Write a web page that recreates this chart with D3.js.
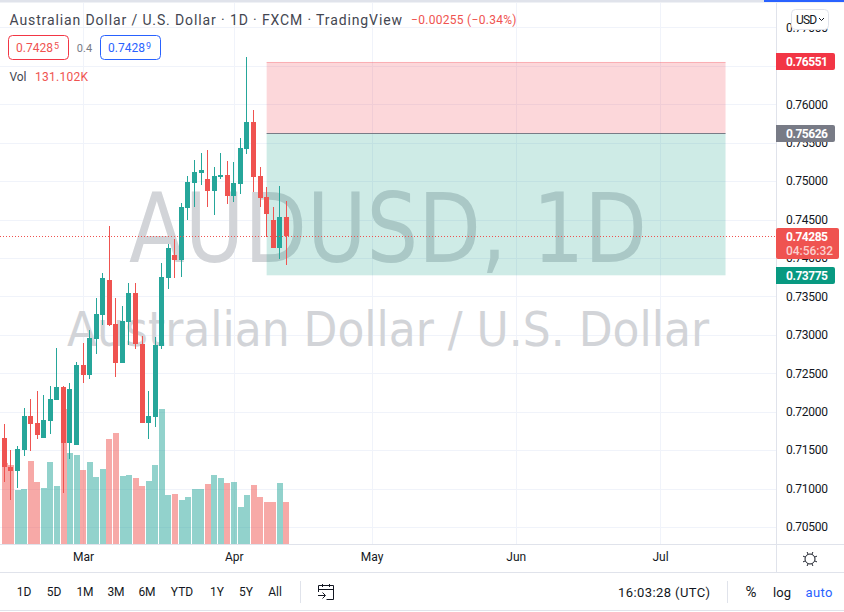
<!DOCTYPE html>
<html><head><meta charset="utf-8">
<style>
html,body{margin:0;padding:0;background:#fff}
svg{display:block}
text{font-family:Roboto,"Noto Sans",sans-serif;font-size:12px;fill:#131722}
.axis path.domain{display:none}
.axis line{display:none}
</style>
<script src="https://cdn.jsdelivr.net/npm/d3@7/dist/d3.min.js"></script>
</head><body>
<script>
const opens=[.71775,.71658,.71281,.71229,.71502,.71944,.71853,.71658,.71879,.72152,.72322,.71593,.71567,.72608,.72478,.72946,.73258,.73714,.73141,.72634,.73167,.73545,.72881,.71853,.71931,.72855,.73740,.74039,.73974,.74651,.74976,.75106,.75028,.74872,.75054,.75080,.74807,.74963,.75418,.75770,.75067,.74794,.74495,.74130,.74534];
const closes=[.71658,.71281,.71229,.71515,.71944,.71840,.71697,.71892,.72165,.72322,.71593,.72296,.72608,.72478,.72959,.73271,.73740,.73128,.72634,.73180,.73545,.72881,.71853,.71944,.72868,.73753,.74130,.73974,.74664,.74989,.75119,.75145,.74872,.75067,.75080,.74807,.74976,.75431,.75770,.75054,.74781,.74573,.74130,.74534,.74285];
const highs=[.71827,.71840,.71502,.71554,.72048,.72165,.72270,.72218,.72335,.72829,.72335,.72374,.72647,.72894,.73063,.73480,.73805,.74417,.73480,.73376,.73675,.73675,.72985,.72270,.72972,.73935,.74182,.74247,.74716,.75067,.75275,.75366,.75405,.75184,.75366,.75262,.75249,.75562,.76616,.75926,.75184,.74924,.74664,.74937,.74742];
const lows=[.71567,.71085,.70851,.71007,.71424,.71489,.71645,.71658,.71710,.72152,.70942,.71385,.71567,.72374,.72426,.72751,.73128,.73115,.72452,.72634,.72868,.72816,.71853,.71645,.71801,.72816,.73597,.73740,.73753,.74495,.74664,.74950,.74664,.74560,.75028,.74703,.74729,.74833,.75353,.74859,.74664,.74273,.74130,.73987,.73909];
const volumes=[0,253,246,168,172,259,193,175,256,181,421,284,278,231,256,209,234,328,346,212,215,206,181,197,246,421,153,156,137,147,172,172,187,215,206,190,193,115,153,184,147,131,131,190,131.102];
const priceTicks=[.705,.71,.715,.72,.725,.73,.735,.74,.745,.75,.755,.76,.765,.77];
const monthLabels=["Mar","Apr","May","Jun","Jul"];
const monthBars=[13,36,57,79,101];
const rangeButtons=["1D","5D","1M","3M","6M","YTD","1Y","5Y","All"];
const rangeCenters=[24,54,85,116,147,182,217,246,275];
const stopPrice=.76551, entryPrice=.75626, targetPrice=.73775, lastPrice=.74285;
const positionBars=[41,111];

const W=844,H=612,plotR=776,plotB=544;
const red="#ef5350",teal="#26a69a";
const svg=d3.select("body").append("svg").attr("width",W).attr("height",H);
const x=d3.scaleLinear().domain([1,44]).range([4.4,286.3]);
const y=d3.scaleLinear().domain([.705,.76]).range([527,104.3]);
const v=d3.scaleLinear().domain([0,421]).range([plotB,409]);
const px=n=>Math.round(n)+.5;

const grid=svg.append("g").attr("stroke","#f0f3fa").attr("stroke-width",1);
grid.selectAll("line.h").data(priceTicks).join("line").attr("x1",0).attr("x2",plotR)
  .attr("y1",d=>px(y(d))).attr("y2",d=>px(y(d)));
grid.selectAll("line.v").data(monthBars).join("line").attr("y1",3).attr("y2",plotB)
  .attr("x1",d=>px(x(d))).attr("x2",d=>px(x(d)));

// watermark
const wm=svg.append("g").attr("text-anchor","middle");
wm.append("text").attr("x",388).attr("y",262).text("AUDUSD, 1D")
  .style("font-family","'DejaVu Sans'").style("font-size","96px").style("fill","#d2d4d8")
  .attr("textLength",518).attr("lengthAdjust","spacingAndGlyphs");
wm.append("text").attr("x",388).attr("y",346).text("Australian Dollar / U.S. Dollar")
  .style("font-family","'DejaVu Sans'").style("font-size","48px").style("fill","#d2d4d8")
  .attr("textLength",642).attr("lengthAdjust","spacingAndGlyphs");

// position box
const bx0=x(positionBars[0]),bx1=x(positionBars[1]);
svg.append("rect").attr("x",bx0).attr("width",bx1-bx0).attr("y",y(stopPrice)).attr("height",y(entryPrice)-y(stopPrice))
  .attr("fill","rgba(242,54,69,.2)");
svg.append("rect").attr("x",bx0).attr("width",bx1-bx0).attr("y",y(entryPrice)).attr("height",y(targetPrice)-y(entryPrice))
  .attr("fill","rgba(8,153,129,.2)");
svg.append("line").attr("x1",bx0).attr("x2",bx1).attr("y1",px(y(stopPrice))).attr("y2",px(y(stopPrice))).attr("stroke","rgba(242,54,69,.25)");
svg.append("line").attr("x1",bx0).attr("x2",bx1).attr("y1",px(y(entryPrice))).attr("y2",px(y(entryPrice))).attr("stroke","#787b86");

const bars=d3.range(opens.length);
const up=i=>closes[i]>=opens[i];
// volume
svg.append("g").attr("shape-rendering","crispEdges").selectAll("rect").data(bars).join("rect")
  .attr("x",i=>Math.round(x(i)-2.9)).attr("width",6)
  .attr("y",i=>v(volumes[i])).attr("height",i=>plotB-v(volumes[i]))
  .attr("fill",i=>up(i)?"rgba(38,166,154,.5)":"rgba(239,83,80,.5)");
// candles
const cg=svg.append("g").attr("shape-rendering","crispEdges");
cg.selectAll("line").data(bars).join("line")
  .attr("x1",i=>px(x(i)-.5)).attr("x2",i=>px(x(i)-.5))
  .attr("y1",i=>y(highs[i])).attr("y2",i=>y(lows[i]))
  .attr("stroke",i=>up(i)?teal:red);
cg.selectAll("rect").data(bars).join("rect")
  .attr("x",i=>Math.round(x(i)-.5)-2).attr("width",5)
  .attr("y",i=>Math.min(y(opens[i]),y(closes[i])))
  .attr("height",i=>Math.max(1,Math.abs(y(opens[i])-y(closes[i]))))
  .attr("fill",i=>up(i)?teal:red);

// last price line
svg.append("line").attr("x1",0).attr("x2",plotR).attr("y1",px(y(lastPrice))).attr("y2",px(y(lastPrice)))
  .attr("stroke",red).attr("stroke-dasharray","1 2");

// panels
svg.append("rect").attr("x",0).attr("y",0).attr("width",W).attr("height",2.5).attr("fill","#e0e3eb");
svg.append("rect").attr("x",764).attr("y",0).attr("width",80).attr("height",2).attr("fill","#2962ff");
const border=[[plotR+.5,3,plotR+.5,572],[0,544.5,W,544.5],[0,572.5,W,572.5],[0,610.5,W,610.5]];
svg.append("g").selectAll("line").data(border).join("line")
  .attr("x1",d=>d[0]).attr("y1",d=>d[1]).attr("x2",d=>d[2]).attr("y2",d=>d[3]).attr("stroke","#e0e3eb");

// axes
const yAxis=svg.append("g").attr("class","axis").attr("transform","translate(786,0)")
  .call(d3.axisRight(y).tickValues(priceTicks).tickFormat(d3.format(".5f")).tickSize(0).tickPadding(0));
yAxis.selectAll("text").attr("textLength",42).attr("lengthAdjust","spacing");
const xAxis=svg.append("g").attr("class","axis").attr("transform","translate(0,552)")
  .call(d3.axisBottom(x).tickValues(monthBars).tickFormat((d,i)=>monthLabels[i]).tickSize(0).tickPadding(0));

// price tags
function tag(p,h,w,fill,label){
  const c=y(p);
  svg.append("rect").attr("x",776).attr("y",Math.round(c-8.5)).attr("width",w).attr("height",h).attr("rx",2).attr("fill",fill);
  svg.append("rect").attr("x",776).attr("y",Math.round(c-8.5)).attr("width",4).attr("height",h).attr("fill",fill);
  svg.append("text").attr("x",786).attr("y",Math.round(c-8.5)+8.5).attr("dy","0.35em").text(label)
    .style("fill","#fff").style("font-weight",700).attr("textLength",42).attr("lengthAdjust","spacing");
}
tag(stopPrice,17,59,"#f23645",d3.format(".5f")(stopPrice));
tag(entryPrice,17,59,"#787b86",d3.format(".5f")(entryPrice));
tag(targetPrice,17,59,"#089981",d3.format(".5f")(targetPrice));
svg.append("rect").attr("x",776).attr("y",228).attr("width",63).attr("height",31).attr("rx",2).attr("fill",red);
svg.append("text").attr("x",786).attr("y",236.5).attr("dy","0.35em").text(d3.format(".5f")(lastPrice))
  .style("fill","#fff").style("font-weight",700).attr("textLength",42).attr("lengthAdjust","spacing");
svg.append("text").attr("x",786).attr("y",250.5).attr("dy","0.35em").text("04:56:32")
  .style("fill","#fbd0cf").style("font-weight",500).attr("textLength",47).attr("lengthAdjust","spacing");

// USD button
svg.append("rect").attr("x",791.5).attr("y",9.5).attr("width",37).attr("height",20).attr("rx",4).attr("fill","#fff").attr("stroke","#e0e3eb");
svg.append("text").attr("x",796).attr("y",19.5).attr("dy","0.35em").text("USD").attr("textLength",21);
svg.append("path").attr("d","M819 18l2.5 2.5 2.5-2.5").attr("fill","none").attr("stroke","#131722");

// legend
function t(xp,yp,s,fill,size,len){
  const e=svg.append("text").attr("x",xp).attr("y",yp).attr("dy","0.35em").text(s).style("fill",fill).style("font-size",size+"px");
  if(len) e.attr("textLength",len).attr("lengthAdjust","spacing");
  return e;
}
t(9.5,20,"Australian Dollar / U.S. Dollar · 1D · FXCM · TradingView","#434651",14,392.5);
t(411,20,"−0.00255 (−0.34%)",red,12,105.5);
svg.append("rect").attr("x",8.5).attr("y",35.5).attr("width",60).attr("height",24).attr("rx",4).attr("fill","#fff").attr("stroke","#f23645");
svg.append("rect").attr("x",100.5).attr("y",35.5).attr("width",60).attr("height",24).attr("rx",4).attr("fill","#fff").attr("stroke","#2962ff");
t(16,48,"0.7428",red,12,37);
t(54,46,"5",red,9);
t(84.5,48,"0.4","#787b86",11).attr("text-anchor","middle");
t(108,48,"0.7428","#2962ff",12,37);
t(146,46,"9","#2962ff",9);
t(9.5,77,"Vol","#434651",12,17);
t(35,77,"131.102K",red,12,53);

// toolbar
svg.append("g").attr("text-anchor","middle").selectAll("text").data(rangeButtons).join("text")
  .attr("x",(d,i)=>rangeCenters[i]).attr("y",592).attr("dy","0.35em").text(d=>d);
const sep=[[300.5,581,300.5,603],[727.5,581,727.5,603]];
svg.append("g").selectAll("line").data(sep).join("line")
  .attr("x1",d=>d[0]).attr("y1",d=>d[1]).attr("x2",d=>d[2]).attr("y2",d=>d[3]).attr("stroke","#e0e3eb");
// calendar icon
svg.append("path").attr("fill","none").attr("stroke","#131722")
  .attr("d","M318.5 592v-6.5h15v14h-7M318.5 589.5h15M322.5 584v3M329.5 584v3M318 595.5h7M322.5 592.5l3 3-3 3");
t(618,592,"16:03:28 (UTC)","#131722",13,92);
t(751,592,"%","#131722",15).attr("text-anchor","middle");
t(782,592,"log","#131722",13,18).attr("text-anchor","middle");
t(819,592,"auto","#2962ff",13,27).attr("text-anchor","middle");
// sun icon
const sun=svg.append("g").attr("transform","translate(810,559)").attr("fill","none").attr("stroke","#131722");
sun.append("circle").attr("r",5);
sun.selectAll("line").data(d3.range(8)).join("line")
  .attr("x1",d=>5.5*Math.cos(d*Math.PI/4+Math.PI/8)).attr("y1",d=>5.5*Math.sin(d*Math.PI/4+Math.PI/8))
  .attr("x2",d=>7.5*Math.cos(d*Math.PI/4+Math.PI/8)).attr("y2",d=>7.5*Math.sin(d*Math.PI/4+Math.PI/8));
</script>
</body></html>
